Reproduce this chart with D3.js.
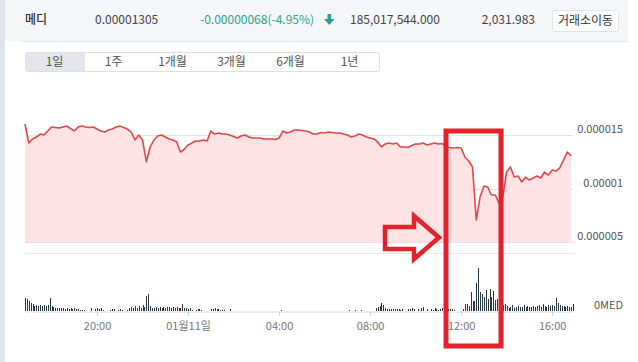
<!DOCTYPE html>
<html>
<head>
<meta charset="utf-8">
<script src="https://cdn.jsdelivr.net/npm/d3@7"></script>
<style>
    body { margin: 0; background: #fff; }
    svg { display: block; font-family: "Noto Sans CJK KR", "Noto Sans", sans-serif; }
</style>
</head>
<body>
<div id="chart"></div>
<script>
// ticker row
const coinName = "메디";
const lastPrice = "0.00001305";
const priceChange = "-0.00000068(-4.95%)";
const tradeVolume = "185,017,544.000";
const tradeAmount = "2,031.983";
const moveButton = "거래소이동";
const periodTabs = ["1일", "1주", "1개월", "3개월", "6개월", "1년"];

// time range of the 1-day chart
const startTime = new Date(2018, 0, 10, 16, 50);
const endTime = new Date(2018, 0, 11, 16, 55);
const priceStepMin = 10;
const volumeStepMin = 5;

const priceTicks = [0.000015, 0.00001, 0.000005];
const timeTicks = [
    new Date(2018, 0, 10, 20, 0),
    new Date(2018, 0, 11, 0, 0),
    new Date(2018, 0, 11, 4, 0),
    new Date(2018, 0, 11, 8, 0),
    new Date(2018, 0, 11, 12, 0),
    new Date(2018, 0, 11, 16, 0)
];
const volumeUnit = "MED";

// price every 10 min, in 1e-8
const priceE8 = [
    1603, 1425, 1463, 1481, 1509, 1500, 1537, 1575, 1570, 1565,
    1575, 1584, 1560, 1537, 1575, 1584, 1575, 1570, 1575, 1556,
    1537, 1528, 1547, 1556, 1575, 1584, 1570, 1556, 1528, 1453,
    1500, 1453, 1250, 1388, 1453, 1491, 1500, 1481, 1463, 1453,
    1435, 1341, 1369, 1407, 1425, 1444, 1444, 1453, 1444, 1537,
    1509, 1519, 1509, 1509, 1500, 1486, 1472, 1491, 1500, 1481,
    1472, 1472, 1472, 1463, 1463, 1463, 1458, 1472, 1537, 1519,
    1528, 1547, 1547, 1542, 1537, 1528, 1509, 1509, 1523, 1519,
    1528, 1523, 1519, 1519, 1509, 1500, 1481, 1491, 1509, 1500,
    1481, 1472, 1463, 1435, 1388, 1416, 1425, 1416, 1425, 1388,
    1388, 1383, 1402, 1416, 1416, 1425, 1407, 1416, 1425, 1416,
    1421, 1388, 1383, 1379, 1383, 1379, 1294, 1257, 1201, 706,
    921, 1023, 1014, 939, 939, 864, 921, 1154, 1201, 1107,
    1117, 1061, 1107, 1079, 1098, 1117, 1098, 1154, 1126, 1173,
    1163, 1192, 1266, 1341, 1305
];

// volume every 5 min (million MED)
const volume = [
    13, 12, 10, 8, 7, 5, 6, 5, 6, 5,
    6, 5, 6, 13, 5, 4, 3, 3, 3, 3,
    3, 2, 3, 2, 3, 2, 3, 2, 2, 1,
    1, 1, 0, 0, 0, 3, 0, 2, 3, 2,
    3, 1, 0, 0, 0, 1, 2, 2, 0, 1,
    2, 1, 0, 0, 1, 3, 4, 3, 5, 3,
    5, 3, 6, 4, 15, 17, 5, 3, 3, 4,
    3, 4, 3, 4, 3, 4, 4, 3, 4, 3,
    4, 3, 3, 7, 3, 3, 2, 3, 1, 0,
    1, 2, 2, 1, 0, 0, 0, 0, 2, 2,
    3, 2, 2, 1, 1, 1, 0, 0, 2, 0,
    0, 0, 0, 0, 0, 0, 0, 0, 0, 0,
    0, 0, 0, 0, 0, 0, 0, 0, 0, 0,
    0, 0, 0, 0, 0, 1, 0, 0, 0, 0,
    0, 0, 0, 0, 0, 0, 0, 0, 0, 0,
    0, 0, 0, 0, 0, 0, 0, 0, 0, 0,
    0, 0, 0, 0, 0, 0, 0, 0, 0, 0,
    0, 1, 0, 0, 1, 0, 0, 1, 0, 0,
    0, 0, 0, 0, 0, 3, 4, 5, 8, 6,
    3, 2, 2, 2, 2, 2, 2, 2, 1, 2,
    0, 0, 2, 2, 3, 2, 0, 2, 0, 3,
    4, 0, 2, 0, 2, 1, 3, 2, 1, 2,
    3, 2, 3, 2, 2, 2, 1, 0, 0, 0,
    0, 2, 7, 7, 5, 19, 10, 10, 28, 43,
    19, 17, 14, 21, 12, 22, 14, 20, 11, 12,
    13, 13, 6, 7, 5, 3, 4, 6, 3, 4,
    5, 4, 4, 6, 4, 5, 4, 4, 5, 4,
    5, 6, 4, 7, 5, 4, 6, 5, 6, 5,
    13, 8, 6, 5, 5, 4, 5, 4, 4, 7
];

const width = 638;
const height = 362;

const priceData = priceE8.map((v, i) => ({
    time: d3.timeMinute.offset(startTime, i * priceStepMin),
    price: v / 1e8
}));
const volumeData = volume.map((v, i) => ({
    time: d3.timeMinute.offset(startTime, i * volumeStepMin),
    value: v
}));

const svg = d3.select("#chart").append("svg")
    .attr("width", width)
    .attr("height", height);

// page frame
svg.append("rect").attr("x", 0).attr("y", 0).attr("width", 5).attr("height", height).attr("fill", "#dfe5ec");
svg.append("rect").attr("x", 5).attr("y", 0).attr("width", 623).attr("height", 41).attr("fill", "#f5f6f8");
svg.append("line").attr("x1", 20).attr("x2", 628).attr("y1", 41.5).attr("y2", 41.5).attr("stroke", "#e6e8eb");

// ticker row
const header = svg.append("g").attr("font-size", 12);
header.append("text").attr("x", 25).attr("y", 24).attr("fill", "#333").attr("font-weight", 500).text(coinName);
header.append("text").attr("x", 95).attr("y", 24).attr("fill", "#444").text(lastPrice);
header.append("text").attr("x", 200).attr("y", 24).attr("fill", "#2aa58c").text(priceChange);
header.append("path")
    .attr("d", "M327.5,14 h3.5 v5 h3.5 l-5.25,6 l-5.25,-6 h3.5 z")
    .attr("fill", "#2aa58c");
header.append("text").attr("x", 350).attr("y", 24).attr("fill", "#444").text(tradeVolume);
header.append("text").attr("x", 535).attr("y", 24).attr("text-anchor", "end").attr("fill", "#444").text(tradeAmount);
header.append("rect")
    .attr("x", 552.5).attr("y", 10.5).attr("width", 66).attr("height", 21).attr("rx", 2)
    .attr("fill", "#fff").attr("stroke", "#e3e3e3");
header.append("text").attr("x", 585.5).attr("y", 25).attr("text-anchor", "middle").attr("fill", "#333").text(moveButton);

// period tabs
const tabW = 59;
const tabs = svg.append("g").attr("font-size", 12);
tabs.append("rect")
    .attr("x", 25.5).attr("y", 52.5).attr("width", tabW * periodTabs.length).attr("height", 19).attr("rx", 2)
    .attr("fill", "#fff").attr("stroke", "#dde0e4");
tabs.append("rect")
    .attr("x", 26).attr("y", 53).attr("width", tabW).attr("height", 18)
    .attr("fill", "#e3e7eb");
tabs.selectAll(".tab")
    .data(periodTabs)
    .enter()
    .append("text")
    .attr("class", "tab")
    .attr("x", (d, i) => 25 + tabW * (i + 0.5))
    .attr("y", 66)
    .attr("text-anchor", "middle")
    .attr("fill", "#555")
    .text(d => d);

// scales
const x = d3.scaleTime().domain([startTime, endTime]).range([25, 573]);
const yPrice = d3.scaleLinear().domain([0.000005, 0.000015]).range([242, 135]);
const yVol = d3.scaleLinear().domain([0, 50]).range([311, 261]);

// price grid + labels
svg.selectAll(".grid")
    .data(priceTicks)
    .enter()
    .append("line")
    .attr("class", "grid")
    .attr("x1", 25).attr("x2", 573)
    .attr("y1", d => Math.round(yPrice(d)) + 0.5)
    .attr("y2", d => Math.round(yPrice(d)) + 0.5)
    .attr("stroke", "#e3e3e3");

const area = d3.area()
    .x(d => x(d.time))
    .y0(yPrice(0.000005))
    .y1(d => yPrice(d.price));

const line = d3.line()
    .x(d => x(d.time))
    .y(d => yPrice(d.price));

svg.append("path").datum(priceData).attr("d", area).attr("fill", "#fde3e3");
svg.append("path").datum(priceData).attr("d", line)
    .attr("fill", "none").attr("stroke", "#e0474c").attr("stroke-width", 1.6)
    .attr("stroke-linejoin", "round");

svg.selectAll(".price-label")
    .data(priceTicks)
    .enter()
    .append("text")
    .attr("class", "price-label")
    .attr("x", 623)
    .attr("y", d => yPrice(d) - 2)
    .attr("text-anchor", "end")
    .attr("font-size", 11)
    .attr("fill", "#555")
    .text(d => String(d));

// separator between panes
svg.append("line").attr("x1", 25).attr("x2", 575).attr("y1", 253.5).attr("y2", 253.5).attr("stroke", "#e8e8e8");

// volume bars
svg.selectAll(".vol")
    .data(volumeData.filter(d => d.value > 0))
    .enter()
    .append("rect")
    .attr("class", "vol")
    .attr("x", d => Math.round(x(d.time)))
    .attr("width", 1)
    .attr("y", d => yVol(d.value))
    .attr("height", d => yVol(0) - yVol(d.value))
    .attr("fill", "#263840");

const fmtHour = d3.timeFormat("%H:%M");
const fmtDay = d3.timeFormat("%m월%d일");
const xAxis = d3.axisBottom(x)
    .tickValues(timeTicks)
    .tickSize(4)
    .tickSizeOuter(0)
    .tickPadding(7)
    .tickFormat(d => d.getHours() === 0 ? fmtDay(d) : fmtHour(d));

const axisG = svg.append("g")
    .attr("transform", `translate(0,${yVol(0) + 0.5})`)
    .call(xAxis);
axisG.select(".domain").attr("stroke", "#dcdcdc");
axisG.selectAll(".tick line").attr("stroke", "#cfcfcf");
axisG.selectAll(".tick text")
    .attr("fill", "#777")
    .attr("font-size", 11)
    .attr("font-family", "\"Noto Sans CJK KR\", sans-serif");

svg.append("text")
    .attr("x", 623).attr("y", yVol(0) - 2)
    .attr("text-anchor", "end")
    .attr("font-size", 11)
    .attr("fill", "#555")
    .text("0" + volumeUnit);

// red annotation (box + arrow)
svg.append("rect")
    .attr("x", 446).attr("y", 131).attr("width", 55).attr("height", 215)
    .attr("fill", "none").attr("stroke", "#e4222c").attr("stroke-width", 5);
svg.append("polygon")
    .attr("points", "385,227 414,227 414,216 439,237.5 414,259 414,249 385,249")
    .attr("fill", "none").attr("stroke", "#e4222c").attr("stroke-width", 4.5);
</script>
</body>
</html>
